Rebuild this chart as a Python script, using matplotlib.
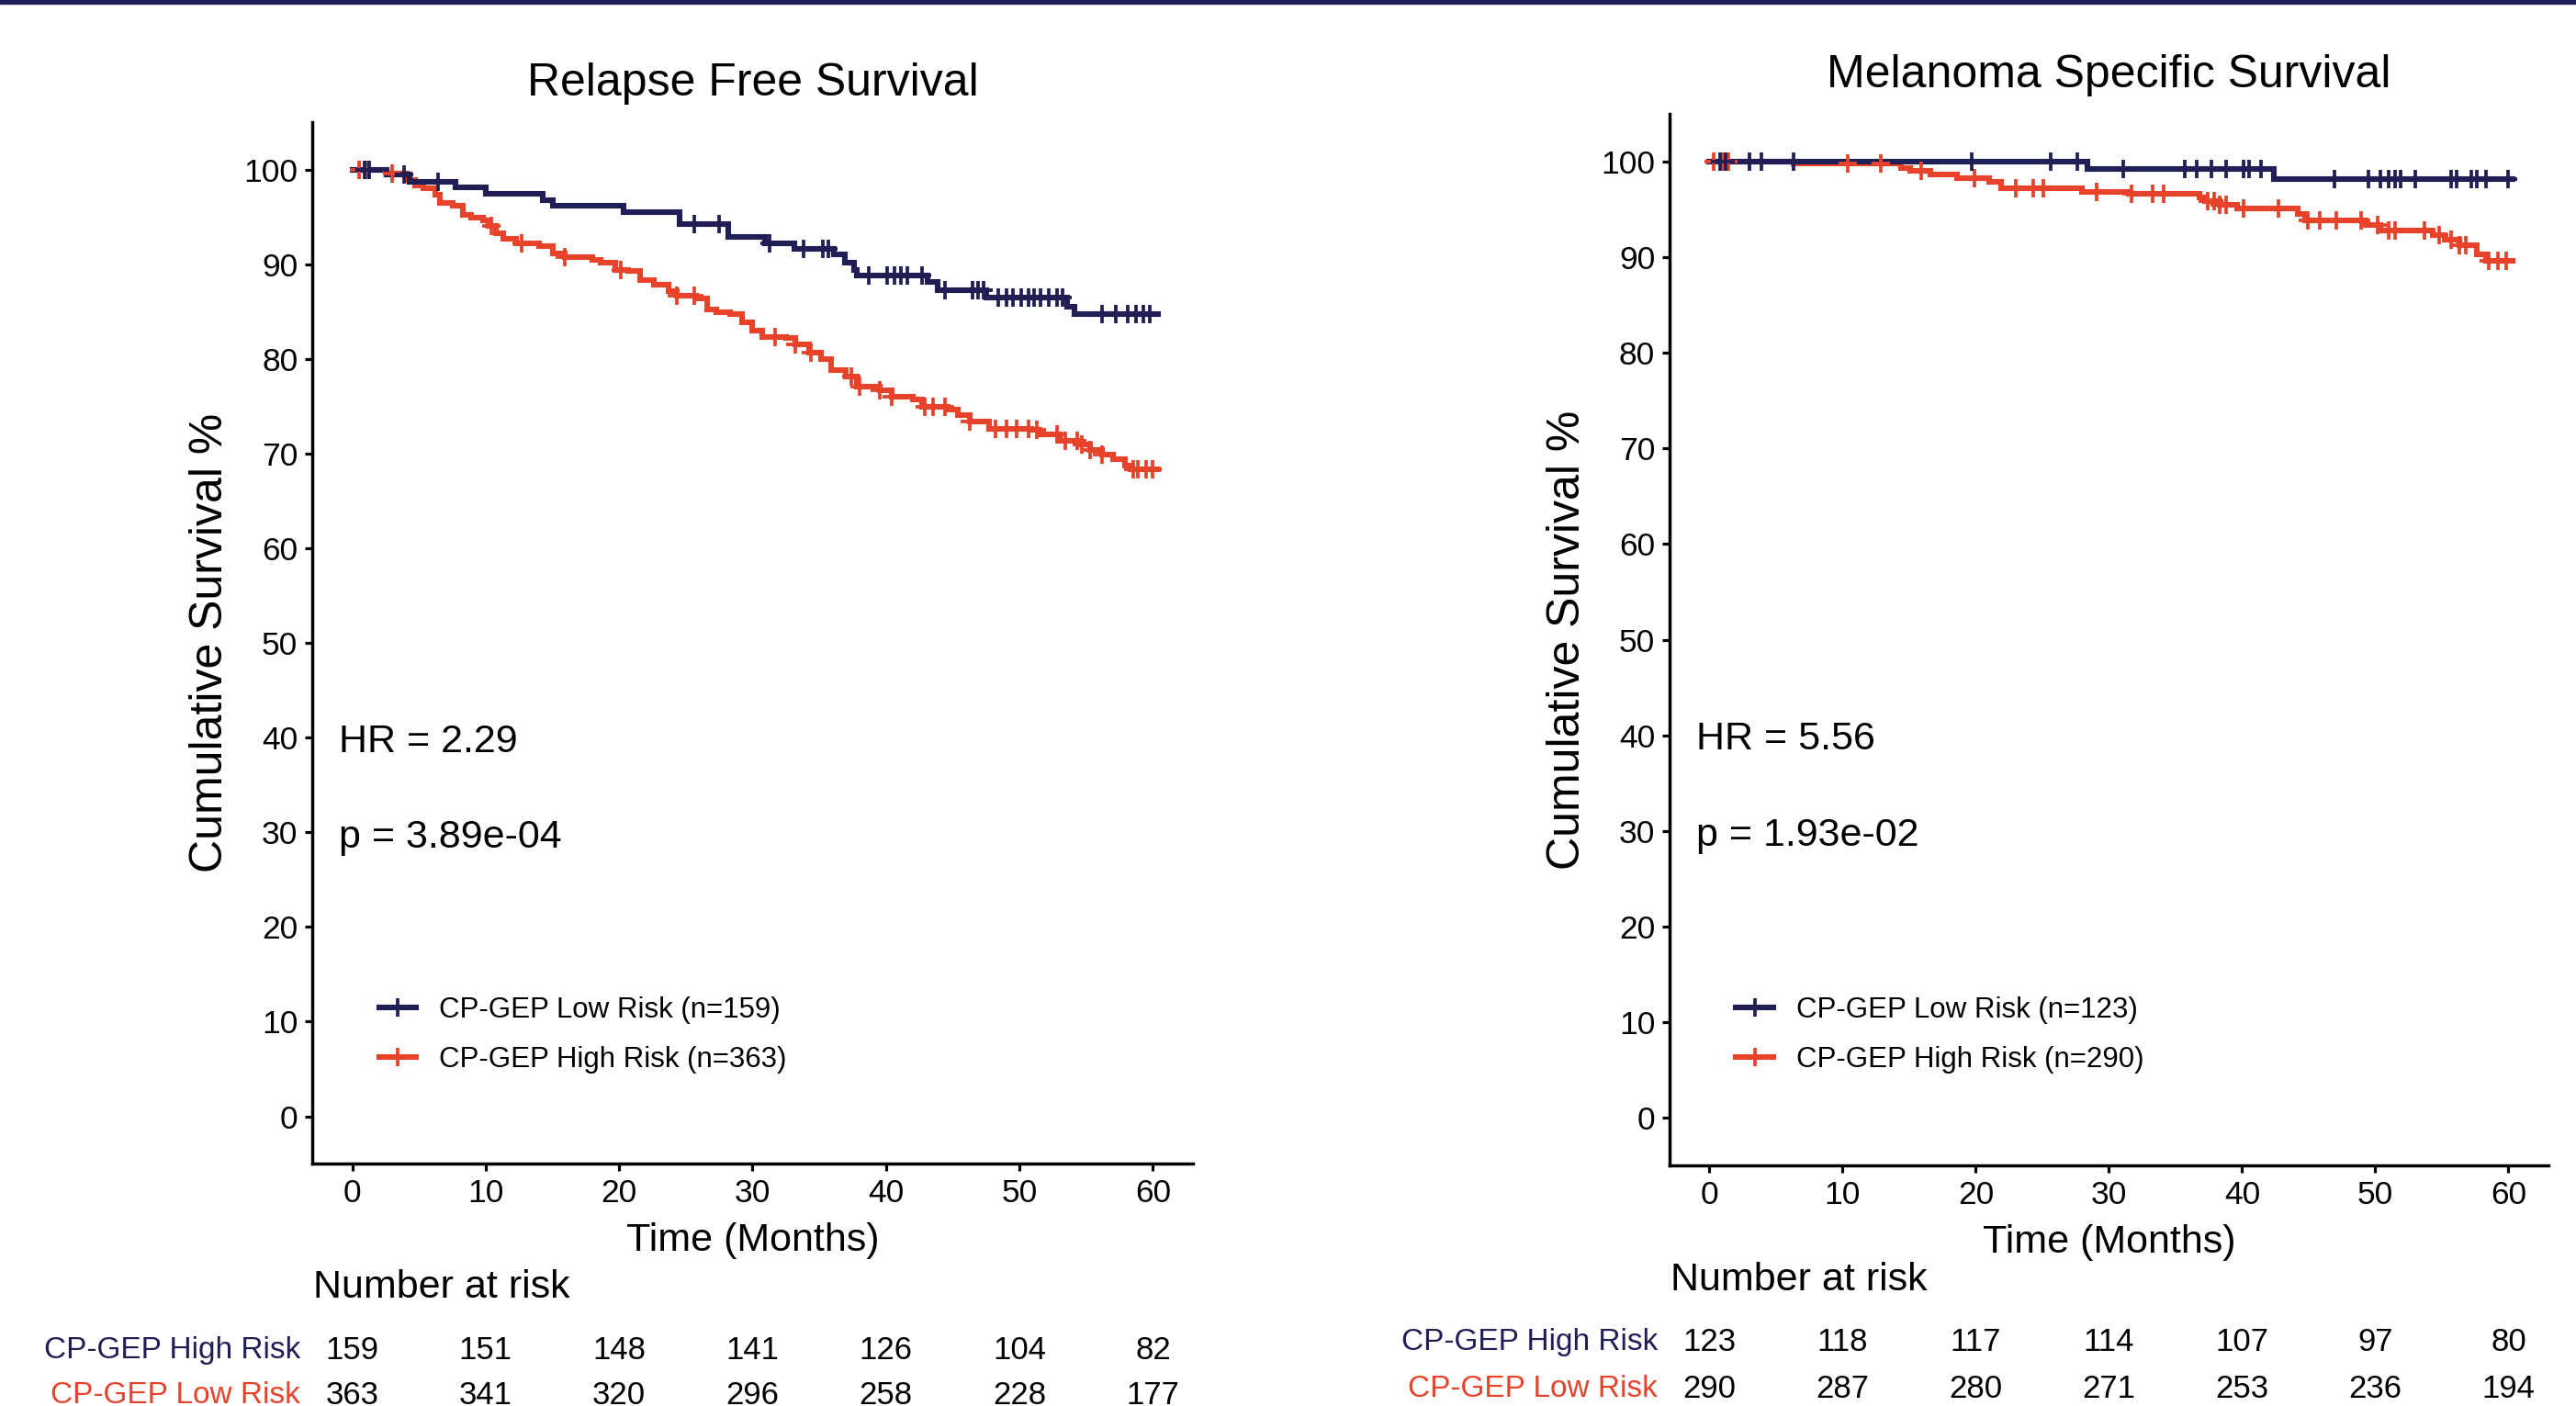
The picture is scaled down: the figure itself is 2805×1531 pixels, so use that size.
import numpy as np
import matplotlib
matplotlib.use('Agg')
import matplotlib.pyplot as plt
from matplotlib.lines import Line2D
from matplotlib.patches import Rectangle
import matplotlib.transforms as mtrans

plt.rcParams['font.family'] = ['Liberation Sans', 'DejaVu Sans']

NAVY = '#211e56'
RED = '#e6432a'

# ---------------- Relapse Free Survival ----------------
rfs_low_t = [0, 2.6, 4.3, 7.75, 10.0, 14.3, 15.0, 20.3, 24.5, 28.2, 30.9, 33.1, 36.1,
             36.9, 37.6, 37.8, 43.1, 43.9, 47.5, 53.6, 54.1]
rfs_low_s = [100, 99.45, 98.7, 98.1, 97.4, 96.8, 96.15, 95.5, 94.2, 92.9, 92.2, 91.6, 91.0,
             90.2, 89.4, 88.8, 88.1, 87.3, 86.5, 85.5, 84.7]
rfs_low_end = 60.4
rfs_low_cens = [0.9, 1.3, 3.9, 6.4, 25.6, 27.5, 31.3, 33.8, 35.3, 35.7, 38.7, 40.1, 40.6,
                41.1, 41.6, 42.7, 44.4, 46.5, 46.9, 47.3, 48.4, 49.0, 49.5, 50.1, 50.7,
                51.1, 51.6, 52.2, 52.8, 53.2, 56.2, 57.2, 58.1, 58.7, 59.3, 59.8]

rfs_high_t = [0, 2.6, 4.1, 4.7, 5.3, 6.2, 6.6, 7.5, 8.3, 8.9, 9.8, 10.2, 10.8, 11.3, 12.3,
              14.0, 15.0, 15.9, 18.0, 18.6, 19.7, 20.7, 21.6, 22.6, 23.7, 24.3, 25.8, 26.6,
              27.3, 28.3, 29.2, 30.0, 30.7, 32.5, 33.2, 34.2, 35.1, 35.9, 37.0, 37.8, 39.5,
              40.4, 42.0, 42.7, 44.6, 45.4, 46.3, 47.7, 50.9, 51.5, 53.0, 54.5, 55.3, 56.2,
              57.0, 57.9, 58.3]
rfs_high_s = [100, 99.6, 98.9, 98.3, 98.0, 97.3, 96.5, 96.2, 95.2, 94.9, 94.6, 94.0, 93.3,
              92.7, 92.2, 91.9, 91.1, 90.7, 90.5, 90.2, 89.4, 89.3, 88.3, 87.8, 87.2, 86.7,
              86.4, 85.2, 84.9, 84.7, 83.9, 83.0, 82.3, 82.2, 81.5, 80.7, 80.0, 78.8, 78.1,
              77.1, 76.7, 76.0, 75.7, 74.9, 74.6, 74.1, 73.4, 72.6, 72.5, 72.0, 71.3, 71.0,
              70.4, 69.9, 69.4, 68.7, 68.3]
rfs_high_end = 60.4
rfs_high_cens = [0.5, 1.1, 3.0, 10.4, 12.7, 15.9, 20.1, 24.3, 25.6, 31.7, 33.2, 34.4, 37.4,
                 38.0, 39.5, 40.4, 42.9, 43.5, 44.4, 46.3, 48.2, 49.0, 49.8, 50.7, 51.3,
                 52.8, 53.4, 54.3, 54.7, 55.3, 56.2, 58.5, 58.9, 59.5, 60.0]

# ---------------- Melanoma Specific Survival ----------------
mss_low_t = [0, 28.4, 42.4]
mss_low_s = [100, 99.2, 98.2]
mss_low_end = 60.3
mss_low_cens = [0.8, 1.2, 3.0, 3.9, 6.3, 19.7, 25.6, 27.6, 31.1, 35.7, 36.6, 37.7, 38.8,
                40.1, 40.5, 41.4, 46.9, 49.5, 50.4, 51.0, 51.5, 51.9, 53.0, 55.7, 56.1,
                57.2, 57.6, 58.3, 60.0]

mss_high_t = [0, 6.3, 14.4, 15.1, 16.6, 18.6, 21.0, 21.9, 28.0, 31.5, 36.8, 37.2, 38.3,
              39.6, 44.2, 44.7, 49.3, 50.4, 54.3, 55.2, 56.3, 57.6, 58.3]
mss_high_s = [100, 99.8, 99.3, 99.0, 98.7, 98.3, 97.9, 97.2, 96.8, 96.6, 96.3, 95.9, 95.5,
              95.1, 94.5, 93.9, 93.4, 92.8, 92.3, 91.8, 91.3, 90.3, 89.6]
mss_high_end = 60.3
mss_high_cens = [0.35, 1.0, 1.45, 10.4, 12.9, 15.9, 19.9, 23.0, 24.3, 25.1, 29.1, 31.7,
                 33.3, 34.1, 37.4, 37.9, 38.3, 38.8, 40.1, 42.7, 44.9, 45.8, 47.1, 48.9,
                 50.2, 51.0, 51.5, 53.7, 54.8, 55.7, 56.3, 56.8, 58.5, 59.2, 59.8]

# ---------------- Number at risk ----------------
risk_times = [0, 10, 20, 30, 40, 50, 60]
rfs_risk_row1 = [159, 151, 148, 141, 126, 104, 82]
rfs_risk_row2 = [363, 341, 320, 296, 258, 228, 177]
mss_risk_row1 = [123, 118, 117, 114, 107, 97, 80]
mss_risk_row2 = [290, 287, 280, 271, 253, 236, 194]
row_labels = ['CP-GEP High Risk', 'CP-GEP Low Risk']

titles = ['Relapse Free Survival', 'Melanoma Specific Survival']
legend_labels = [['CP-GEP Low Risk (n=159)', 'CP-GEP High Risk (n=363)'],
                 ['CP-GEP Low Risk (n=123)', 'CP-GEP High Risk (n=290)']]
hr_texts = ['HR = 2.29', 'HR = 5.56']
p_texts = ['p = 3.89e-04', 'p = 1.93e-02']

fig = plt.figure(figsize=(28.05, 15.31), dpi=100)
fig.patches.append(Rectangle((0, 1 - 3.5 / 1531), 1, 3.5 / 1531, transform=fig.transFigure,
                             color=NAVY, zorder=10))

axes_rects = [[0.1212, 0.1724, 0.3419, 0.7407], [0.6481, 0.1711, 0.3412, 0.7479]]
curves = [
    [(rfs_high_t, rfs_high_s, rfs_high_end, rfs_high_cens, RED),
     (rfs_low_t, rfs_low_s, rfs_low_end, rfs_low_cens, NAVY)],
    [(mss_high_t, mss_high_s, mss_high_end, mss_high_cens, RED),
     (mss_low_t, mss_low_s, mss_low_end, mss_low_cens, NAVY)],
]
risks = [(rfs_risk_row1, rfs_risk_row2), (mss_risk_row1, mss_risk_row2)]
risk_y = [(0.0840, 0.0392, 0.0072), (0.0893, 0.0451, 0.0124)]
xlabel_y = [-0.0565, -0.0555]

LW = 4.4
MS = 15
MEW = 2.7
for i in range(2):
    ax = fig.add_axes(axes_rects[i])
    for (t, s, end, cens, col) in curves[i]:
        t = np.asarray(t, float)
        s = np.asarray(s, float)
        tx = np.append(t, end)
        sx = np.append(s, s[-1])
        ax.step(tx, sx, where='post', color=col, lw=LW, solid_joinstyle='miter', zorder=3)
        c = np.asarray(cens, float)
        idx = np.searchsorted(t, c, side='right') - 1
        ax.plot(c, s[idx], linestyle='none', marker='+', ms=MS, mew=MEW, color=col, zorder=4)

    ax.set_xlim(-3, 63)
    ax.set_ylim(-5, 105)
    ax.set_xticks(range(0, 61, 10))
    ax.set_yticks(range(0, 101, 10))
    for sp in ['top', 'right']:
        ax.spines[sp].set_visible(False)
    for sp in ['left', 'bottom']:
        ax.spines[sp].set_linewidth(2.5)
    ax.tick_params(direction='out', length=5.8, width=2.3, labelsize=25.5, pad=5.5)
    ax.set_title(titles[i], fontsize=36, pad=21)
    ax.set_xlabel('Time (Months)', fontsize=31)
    ax.xaxis.set_label_coords(0.5, xlabel_y[i])
    ax.set_ylabel('Cumulative Survival %', fontsize=36)
    ax.yaxis.set_label_coords(-0.092, 0.5)

    ax.text(-1.0, 38.5, hr_texts[i], fontsize=31, va='baseline', ha='left')
    ax.text(-1.0, 28.4, p_texts[i], fontsize=31, va='baseline', ha='left')

    handles = [Line2D([], [], color=NAVY, lw=LW, marker='+', ms=MS, mew=MEW),
               Line2D([], [], color=RED, lw=LW, marker='+', ms=MS, mew=MEW)]
    ax.legend(handles, legend_labels[i], loc='upper left', bbox_to_anchor=(2.0, 12.7),
              bbox_transform=ax.transData, frameon=False, fontsize=22.5, borderpad=0,
              borderaxespad=0, handlelength=1.3, handletextpad=0.8, labelspacing=0.78)

    blend = mtrans.blended_transform_factory(ax.transData, fig.transFigure)
    yh, y1, y2 = risk_y[i]
    ax.text(-2.9, yh, 'Number at risk', fontsize=31, ha='left', va='center', transform=blend)
    ax.text(-3.9, y1, row_labels[0], fontsize=24, ha='right', va='center', color=NAVY,
            transform=blend)
    ax.text(-3.9, y2, row_labels[1], fontsize=24, ha='right', va='center', color=RED,
            transform=blend)
    r1, r2 = risks[i]
    for tt, a, b in zip(risk_times, r1, r2):
        ax.text(tt, y1, str(a), fontsize=25, ha='center', va='center', transform=blend)
        ax.text(tt, y2, str(b), fontsize=25, ha='center', va='center', transform=blend)

fig.savefig('out.png', dpi=100)
